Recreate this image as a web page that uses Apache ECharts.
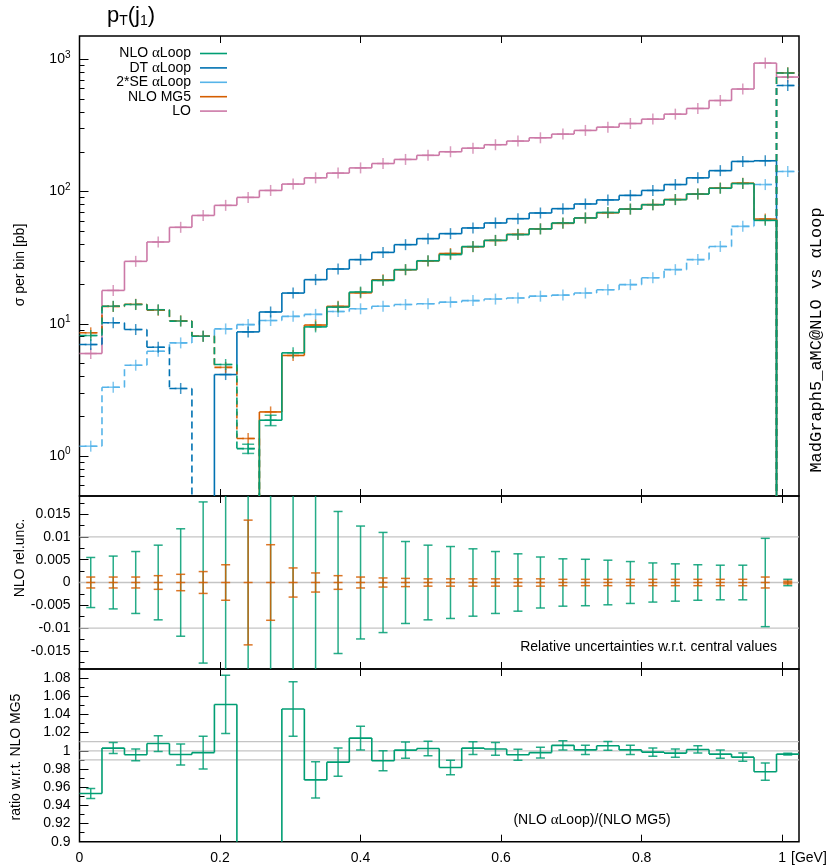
<!DOCTYPE html>
<html><head><meta charset="utf-8">
<script src="https://cdn.jsdelivr.net/npm/echarts@6/dist/echarts.min.js"></script>
<style>html,body{margin:0;padding:0;background:#fff}#c{width:831px;height:867px}</style>
</head><body><div id="c"></div>
<script>
// ---------------- DATA ----------------
const binEdges = [0,0.032,0.064,0.096,0.128,0.16,0.192,0.224,0.256,0.288,0.32,0.352,0.384,0.416,0.448,0.48,0.512,0.544,0.576,0.608,0.64,0.672,0.704,0.736,0.768,0.8,0.832,0.864,0.896,0.928,0.96,0.992,1.024];
// signed cross sections per bin [pb]; negative values are drawn dashed (absolute value)
const nloAlphaLoop = [-8.16,-13.6,-14.0,-12.8,-10.5,-8.06,-4.93,-1.14,1.87,6.04,9.49,13.4,17.4,21.3,25.7,30.0,33.4,38.4,42.8,47.3,52.2,57.9,63.2,69.5,73.8,79.6,86.9,95.8,106,115,60.6,-787];
const dtAlphaLoop  = [-6.98,-10.2,-9.06,-6.66,-3.25,0.3,4.14,8.7,12.3,17.1,21.6,26.0,30.6,34.7,39.7,44.1,48.1,53.1,57.9,62.4,68.9,74.3,80.6,86.5,93.6,102,113,127,144,169,171,-634];
const se2AlphaLoop = [-1.19,-3.32,-4.87,-6.21,-7.18,-8.06,-9.16,-9.88,-10.6,-11.4,-11.8,-12.4,-13.0,-13.6,-14.0,-14.2,-14.6,-15.0,-15.4,-15.7,-16.2,-16.5,-17.1,-18.1,-19.8,-22.3,-25.7,-30.6,-38.5,-54.6,-113,-142];
const nloMG5       = [-8.56,-13.56,-14.06,-12.7,-10.54,-8.08,-4.69,-1.36,2.16,5.77,9.80,13.57,17.16,21.54,25.67,29.92,34.03,38.29,42.71,47.51,52.3,57.55,63.14,69.1,73.7,79.7,87.1,95.7,106.4,115.8,62.0,-790];
const loValues     = [5.97,17.9,29.7,41.6,53.7,66.0,78.7,90.4,102,114,127,138,151,163,175,188,200,213,226,241,255,272,290,307,327,353,385,425,488,596,936,734];
// relative uncertainties
const relUncNLO = [0.0055,0.0058,0.0068,0.0082,0.0118,0.0177,0.030,0.080,0.090,0.030,0.021,0.0156,0.0124,0.011,0.009,0.0082,0.0079,0.0074,0.0068,0.0063,0.0056,0.0052,0.0051,0.0049,0.0046,0.0043,0.0041,0.0039,0.0038,0.0038,0.0097,0.0007];
const relUncMG5 = [0.0012,0.0012,0.0012,0.0015,0.0018,0.0024,0.0039,0.0137,0.0083,0.0032,0.0021,0.0015,0.0012,0.0010,0.0009,0.0008,0.0008,0.0008,0.0008,0.0008,0.0008,0.0007,0.0007,0.0007,0.0007,0.0007,0.0007,0.0007,0.0007,0.0007,0.0012,0.0003];
// ratio (NLO aLoop)/(NLO MG5)
const ratioValues = [0.953,1.003,0.9956,1.008,0.996,0.998,1.051,0.84,0.866,1.046,0.968,0.9875,1.014,0.989,1.0008,1.0026,0.9816,1.003,1.002,0.9956,0.998,1.006,1.001,1.0055,1.001,0.9986,0.9975,1.0015,0.9964,0.993,0.977,0.9964];
const ratioErrors = [0.0055,0.006,0.0065,0.0087,0.0116,0.018,0.032,0.04,0.025,0.03,0.02,0.0155,0.013,0.011,0.009,0.008,0.008,0.007,0.007,0.006,0.006,0.005,0.005,0.0048,0.005,0.0045,0.0045,0.004,0.0045,0.0045,0.0095,0.001];
// ticks
const xTickValues = [0,0.2,0.4,0.6,0.8,1];
const topMajorTicks = [1,10,100,1000];
const topMinorTicks = [0.6,0.7,0.8,0.9,2,3,4,5,6,7,8,9,20,30,40,50,60,70,80,90,200,300,400,500,600,700,800,900];
const midMajorTicks = [-0.015,-0.01,-0.005,0,0.005,0.01,0.015];
const midMinorTicks = [-0.0175,-0.0125,-0.0075,-0.0025,0.0025,0.0075,0.0125,0.0175];
const botMajorTicks = [0.9,0.92,0.94,0.96,0.98,1,1.02,1.04,1.06,1.08];
const botMinorTicks = [0.91,0.93,0.95,0.97,0.99,1.01,1.03,1.05,1.07];
const midRefLines = [-0.01,0,0.01];
const botRefLines = [0.99,1,1.01];
const legendNames = ['NLO \u03b1Loop','DT \u03b1Loop','2*SE \u03b1Loop','NLO MG5','LO'];

// ---------------- STYLE ----------------
const FONT = 'Liberation Sans';
const C_NLO = '#009E73', C_DT = '#0072B2', C_SE = '#56B4E9', C_MG5 = '#D55E00', C_LO = '#CC79A7';
const GL = 79.5, GW = 719.5;

const centers = binEdges.slice(0,-1).map((lo,i)=>(lo+binEdges[i+1])/2);

function makeStep(vals, color, g, isLog, z) {
  return {
    type:'custom', xAxisIndex:2*g, yAxisIndex:2*g, clip:true, silent:true, z:z,
    data: vals.map((v,i)=>[centers[i], Math.abs(v)||1]),
    encode:{x:0,y:1},
    renderItem(params, api){
      const i = params.dataIndex, cs = params.coordSys;
      const bottom = cs.y + cs.height + 6;
      const Y = (val)=> (isLog && val<=0) ? bottom : api.coord([0.5, val])[1];
      const X = (x)=> api.coord([x, 1])[0];
      const v = vals[i];
      const x0 = X(binEdges[i]), x1 = X(binEdges[i+1]);
      const solid = {stroke:color, lineWidth:1.6, fill:null};
      const dashed = {stroke:color, lineWidth:1.6, fill:null, lineDash:[7,4]};
      const ch = [];
      if (v !== 0) { const y = Y(Math.abs(v)); ch.push({type:'line', shape:{x1:x0,y1:y,x2:x1,y2:y}, style: v>0?solid:dashed}); }
      if (i < vals.length-1) {
        const vn = vals[i+1];
        const a = Math.max(v,0), b = Math.max(vn,0);
        if (a>0 || b>0) ch.push({type:'line', shape:{x1:x1,y1:Y(a),x2:x1,y2:Y(b)}, style:solid});
        if (isLog) {
          const c = Math.max(-v,0), d = Math.max(-vn,0);
          if (c>0 || d>0) ch.push({type:'line', shape:{x1:x1,y1:Y(c),x2:x1,y2:Y(d)}, style:dashed});
        }
      }
      return {type:'group', children:ch};
    }
  };
}

function makeMarks(vals, color, rel, z) {
  return {
    type:'custom', xAxisIndex:0, yAxisIndex:0, clip:true, silent:true, z:z,
    data: vals.map((v,i)=>[centers[i], Math.abs(v)]),
    encode:{x:0,y:1},
    renderItem(params, api){
      const i = params.dataIndex;
      const av = Math.abs(vals[i]);
      const p = api.coord([centers[i], av]);
      const st = {stroke:color, lineWidth:1.5, fill:null, opacity:0.75};
      const ch = [
        {type:'line', shape:{x1:p[0]-6,y1:p[1],x2:p[0]+6,y2:p[1]}, style:st},
        {type:'line', shape:{x1:p[0],y1:p[1]-5.5,x2:p[0],y2:p[1]+5.5}, style:st}
      ];
      if (rel) {
        const yl = api.coord([centers[i], av*(1-rel[i])])[1];
        const yh = api.coord([centers[i], av*(1+rel[i])])[1];
        if (yl - yh > 9) {
          ch.push({type:'line', shape:{x1:p[0],y1:yh,x2:p[0],y2:yl}, style:st});
          ch.push({type:'line', shape:{x1:p[0]-6,y1:yh,x2:p[0]+6,y2:yh}, style:st});
          ch.push({type:'line', shape:{x1:p[0]-6,y1:yl,x2:p[0]+6,y2:yl}, style:st});
        }
      }
      return {type:'group', children:ch};
    }
  };
}

function makeBars(g, mids, errs, color, centerTick, z) {
  return {
    type:'custom', xAxisIndex:2*g, yAxisIndex:2*g, clip:true, silent:true, z:z,
    data: errs.map((e,i)=>[centers[i], mids ? mids[i] : 0]),
    encode:{x:0,y:1},
    renderItem(params, api){
      const i = params.dataIndex;
      const m = mids ? mids[i] : 0, e = errs[i];
      const x = api.coord([centers[i], m])[0];
      const yc = api.coord([centers[i], m])[1];
      const yh = api.coord([centers[i], m+e])[1];
      const yl = api.coord([centers[i], m-e])[1];
      const st = {stroke:color, lineWidth:1.5, fill:null, opacity:0.85};
      const ch = [
        {type:'line', shape:{x1:x,y1:yh,x2:x,y2:yl}, style:st},
        {type:'line', shape:{x1:x-4.5,y1:yh,x2:x+4.5,y2:yh}, style:st},
        {type:'line', shape:{x1:x-4.5,y1:yl,x2:x+4.5,y2:yl}, style:st}
      ];
      if (centerTick) ch.push({type:'line', shape:{x1:x-4.5,y1:yc,x2:x+4.5,y2:yc}, style:st});
      return {type:'group', children:ch};
    }
  };
}

function makeRefLines(g, vals) {
  return {
    type:'custom', xAxisIndex:2*g, yAxisIndex:2*g, clip:true, silent:true, z:1,
    data: vals.map(v=>[0.5, v]), encode:{x:0,y:1},
    renderItem(params, api){
      const cs = params.coordSys;
      const y = api.coord([0.5, vals[params.dataIndex]])[1];
      return {type:'line', shape:{x1:cs.x, y1:y, x2:cs.x+cs.width, y2:y}, style:{stroke:'#c4c4c4', lineWidth:1.3}};
    }
  };
}

function xAxisCfg(g, pos, labels) {
  return {
    type:'value', gridIndex:g, position:pos, min:0, max:1.024,
    axisLine:{show:false, onZero:false}, splitLine:{show:false},
    axisTick:{show:true, inside:true, length:7, customValues:xTickValues, lineStyle:{color:'#000', width:1}},
    axisLabel:{show:labels, customValues:xTickValues, margin:9, color:'#000', fontFamily:FONT, fontSize:14,
      formatter:(v)=>String(v)}
  };
}
function yAxisCfg(g, type, min, max, ticks, len, labels, extra) {
  const o = {
    type:type, gridIndex:g, min:min, max:max, position:'left',
    axisLine:{show:false, onZero:false}, splitLine:{show:false},
    axisTick:{show:true, inside:true, length:len, customValues:ticks, lineStyle:{color:'#000', width:1}},
    axisLabel:{show:labels, customValues:ticks, margin:9, color:'#000', fontFamily:FONT, fontSize:14}
  };
  if (type==='log') o.logBase = 10;
  return Object.assign(o, extra||{});
}

const logLabel = {
  formatter:(v)=>'{b|10}{s|' + Math.round(Math.log10(v)) + '}',
  rich:{ b:{fontFamily:FONT, fontSize:14, color:'#000'}, s:{fontFamily:FONT, fontSize:10, color:'#000', padding:[0,0,9,0]} }
};

const yAxes = [
  yAxisCfg(0,'log',0.5,1500,topMajorTicks,9,true),
  yAxisCfg(0,'log',0.5,1500,topMinorTicks,5,false),
  yAxisCfg(1,'value',-0.019,0.019,midMajorTicks,9,true),
  yAxisCfg(1,'value',-0.019,0.019,midMinorTicks,5,false),
  yAxisCfg(2,'value',0.9,1.09,botMajorTicks,9,true),
  yAxisCfg(2,'value',0.9,1.09,botMinorTicks,5,false)
];
Object.assign(yAxes[0].axisLabel, logLabel);

const gridBase = {left:GL, width:GW, show:true, borderColor:'#000', borderWidth:1.5, backgroundColor:'transparent', containLabel:false, outerBoundsMode:'none'};

const legendColors = [C_NLO, C_DT, C_SE, C_MG5, C_LO];
const legendGraphics = [];
legendNames.forEach((n,k)=>{
  const y = 53.5 + k*14.4;
  const parts = n.split('\u03b1');
  const rt = parts.length>1 ? '{n|'+parts[0]+'}{a|\u03b1}{n|'+parts[1]+'}' : '{n|'+n+'}';
  legendGraphics.push({type:'text', x:191, y:y, style:{text:rt, align:'right', verticalAlign:'middle',
    rich:{n:{fontFamily:FONT, fontSize:14, fill:'#000'}, a:{fontFamily:'Liberation Serif', fontSize:15, fill:'#000'}}}});
  legendGraphics.push({type:'line', shape:{x1:200, y1:y, x2:227, y2:y}, style:{stroke:legendColors[k], lineWidth:1.6}});
});

const option = {
  animation:false,
  backgroundColor:'#fff',
  grid:[
    Object.assign({top:36, height:460}, gridBase),
    Object.assign({top:496, height:173}, gridBase),
    Object.assign({top:669, height:172.7}, gridBase)
  ],
  xAxis:[ xAxisCfg(0,'bottom',false), xAxisCfg(0,'top',false), xAxisCfg(1,'bottom',false), xAxisCfg(1,'top',false), xAxisCfg(2,'bottom',true), xAxisCfg(2,'top',false) ],
  yAxis: yAxes,
  series:[
    makeStep(loValues, C_LO, 0, true, 3),
    makeStep(se2AlphaLoop, C_SE, 0, true, 3),
    makeStep(dtAlphaLoop, C_DT, 0, true, 3),
    makeStep(nloMG5, C_MG5, 0, true, 3),
    makeStep(nloAlphaLoop, C_NLO, 0, true, 3),
    makeMarks(loValues, C_LO, null, 4),
    makeMarks(se2AlphaLoop, C_SE, null, 4),
    makeMarks(dtAlphaLoop, C_DT, null, 4),
    makeMarks(nloMG5, C_MG5, relUncMG5, 4),
    makeMarks(nloAlphaLoop, C_NLO, relUncNLO, 4),
    makeRefLines(1, midRefLines),
    makeBars(1, null, relUncNLO, C_NLO, false, 4),
    makeBars(1, null, relUncMG5, C_MG5, true, 5),
    makeRefLines(2, botRefLines),
    makeStep(ratioValues, C_NLO, 2, false, 3),
    makeBars(2, ratioValues, ratioErrors, C_NLO, false, 4)
  ],
  graphic:[
    {type:'text', x:107, y:16, style:{text:'{p|p}{s|T}{p|(j}{s|1}{p|)}', align:'left', verticalAlign:'middle',
      rich:{p:{fontFamily:FONT, fontSize:22, fill:'#000'}, s:{fontFamily:FONT, fontSize:14, fill:'#000', padding:[11,0,0,0]}}}},
    {type:'text', x:20, y:265, rotation:Math.PI/2, style:{text:'\u03c3 per bin [pb]', fontFamily:FONT, fontSize:14, fill:'#000', align:'center', verticalAlign:'middle'}},
    {type:'text', x:20, y:558, rotation:Math.PI/2, style:{text:'NLO rel.unc.', fontFamily:FONT, fontSize:14, fill:'#000', align:'center', verticalAlign:'middle'}},
    {type:'text', x:16, y:757, rotation:Math.PI/2, style:{text:'ratio w.r.t. NLO MG5', fontFamily:FONT, fontSize:14, fill:'#000', align:'center', verticalAlign:'middle'}},
    {type:'text', x:816, y:340, rotation:Math.PI/2, style:{text:'MadGraph5_aMC@NLO vs \u03b1Loop', fontFamily:'Liberation Mono', fontSize:17, fill:'#000', align:'center', verticalAlign:'middle'}},
    {type:'text', x:777, y:647, style:{text:'Relative uncertainties w.r.t. central values', fontFamily:FONT, fontSize:14, fill:'#000', align:'right', verticalAlign:'middle'}},
    {type:'text', x:592, y:820, style:{text:'{n|(NLO }{a|\u03b1}{n|Loop)/(NLO MG5)}', align:'center', verticalAlign:'middle',
      rich:{n:{fontFamily:FONT, fontSize:14, fill:'#000'}, a:{fontFamily:'Liberation Serif', fontSize:15, fill:'#000'}}}},
    {type:'text', x:791, y:858, style:{text:'[GeV]', fontFamily:FONT, fontSize:14, fill:'#000', align:'left', verticalAlign:'middle'}}
  ].concat(legendGraphics)
};

const chart = echarts.init(document.getElementById('c'), null, {renderer:'canvas'});
chart.setOption(option);
</script>
</body></html>
